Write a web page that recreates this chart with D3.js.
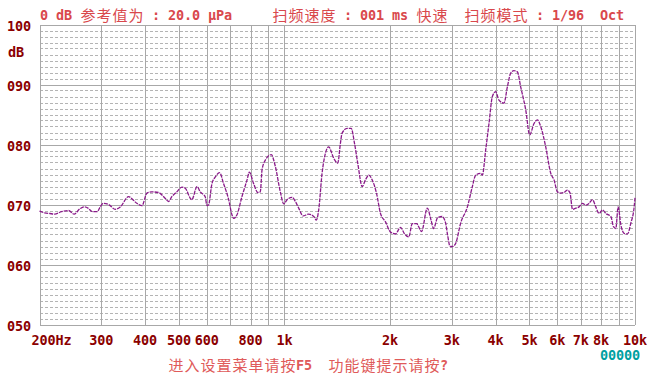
<!DOCTYPE html>
<html>
<head>
<meta charset="utf-8">
<script src="https://cdn.jsdelivr.net/npm/d3@7"></script>
<style>
  body { margin: 0; background: #fff; }
</style>
</head>
<body>
<div id="chart"></div>
<script>
// response curve, frequency (Hz) / level (dB)
const freqs = [
  200, 207, 214, 221, 231, 242, 251, 261, 268, 275, 283, 292, 298, 304, 315, 329, 340, 359, 379, 392,
  405, 418, 437, 457, 467, 477, 493, 510, 521, 544, 563, 575, 594, 601, 607, 621, 635, 653, 670, 693,
  708, 716, 732, 756, 782, 794, 816, 840, 853, 863, 882, 917, 942, 973, 995, 1017, 1051, 1074, 1098, 1130,
  1172, 1212, 1233, 1252, 1280, 1308, 1337, 1382, 1419, 1444, 1460, 1509, 1550, 1584, 1618, 1666, 1702, 1740, 1779, 1830,
  1879, 1942, 2007, 2074, 2143, 2200, 2263, 2314, 2381, 2461, 2555, 2619, 2663, 2734, 2816, 2882, 2920, 2969, 3018, 3078,
  3181, 3325, 3436, 3511, 3629, 3669, 3750, 3832, 3918, 4004, 4091, 4228, 4324, 4419, 4516, 4618, 4719, 4877, 5007, 5151,
  5267, 5383, 5563, 5749, 5875, 6008, 6140, 6275, 6417, 6527, 6631, 6777, 6926, 7082, 7238, 7397, 7564, 7730, 7900, 8078,
  8255, 8532, 8684, 8817, 8951, 9112, 9312, 9522, 9731, 9945, 10000
];
const levels = [
  68.9, 68.6, 68.5, 68.4, 68.8, 69.0, 68.4, 69.3, 69.6, 69.4, 68.8, 68.8, 69.6, 70.2, 70.0, 69.2, 69.6, 71.3, 70.2, 69.8,
  71.9, 72.1, 72.0, 71.0, 70.5, 71.3, 72.1, 72.9, 72.7, 70.8, 73.0, 72.1, 71.3, 69.8, 69.9, 73.5, 74.6, 75.3, 73.5, 70.8,
  68.3, 67.7, 68.3, 71.3, 74.1, 75.4, 73.5, 72.0, 72.1, 75.8, 77.4, 78.3, 76.3, 72.1, 70.1, 70.8, 71.2, 70.5, 69.4, 68.1,
  68.4, 68.0, 67.4, 69.1, 75.2, 78.5, 79.6, 77.7, 76.9, 80.2, 81.9, 82.7, 82.7, 80.2, 76.9, 73.0, 74.1, 74.9, 74.1, 71.9,
  68.5, 67.1, 65.4, 65.1, 66.2, 65.1, 64.6, 66.8, 66.8, 65.5, 69.4, 67.4, 66.0, 67.8, 68.0, 66.9, 64.9, 63.0, 63.0, 63.5,
  66.9, 69.6, 73.0, 74.9, 75.2, 74.9, 79.1, 83.5, 88.0, 88.8, 87.4, 86.9, 89.6, 91.9, 92.3, 92.1, 89.6, 85.8, 81.6, 83.5,
  84.1, 83.0, 79.6, 75.2, 74.1, 72.1, 71.9, 72.0, 72.4, 71.9, 69.2, 69.4, 69.6, 70.2, 69.9, 70.2, 70.8, 69.6, 68.5, 69.1,
  68.5, 68.0, 66.3, 66.0, 69.6, 66.6, 65.2, 65.1, 66.9, 69.6, 71.1
];

const yTicks = [50, 60, 70, 80, 90, 100];
const xGrid = [200, 300, 400, 500, 600, 700, 800, 900, 1000, 2000, 3000, 4000, 5000, 6000, 7000, 8000, 9000, 10000];
const xTicks = [200, 300, 400, 500, 600, 800, 1000, 2000, 3000, 4000, 5000, 6000, 7000, 8000, 10000];
const xTickLabels = ["200Hz", "300", "400", "500", "600", "800", "1k", "2k", "3k", "4k", "5k", "6k", "7k", "8k", "10k"];

const titleText = "0 dB 参考值为 : 20.0 μPa     扫频速度 : 001 ms 快速  扫频模式 : 1/96  Oct";
const footText = "进入设置菜单请按F5  功能键提示请按?";
const counterText = "00000";

const width = 664, height = 379;
const margin = { top: 24.5, right: 29, bottom: 54.5, left: 39.5 };

const svg = d3.select("#chart").append("svg")
  .attr("width", width)
  .attr("height", height)
  .style("display", "block");

svg.append("rect").attr("width", width).attr("height", height).attr("fill", "#fff");

const x = d3.scaleLog()
  .domain([200, 10000])
  .range([margin.left, width - margin.right]);

const y = d3.scaleLinear()
  .domain([50, 100])
  .range([height - margin.bottom, margin.top]);

const monoFont = "'DejaVu Sans Mono', 'Liberation Mono', monospace";
const cjkFont = "'Noto Sans CJK SC', sans-serif";

// text-mode style: 8px cells for ascii, 16px for CJK
const drawMono = (g, str, x0, yBase, color, opts = {}) => {
  let cx = x0;
  for (const ch of str) {
    const wide = ch.charCodeAt(0) > 0x2e80;
    if (ch !== " ") {
      g.append("text")
        .text(ch)
        .attr("x", wide ? cx + 8 : cx + 4)
        .attr("y", wide ? yBase + 1 : yBase)
        .attr("text-anchor", "middle")
        .style("font-family", wide ? cjkFont : monoFont)
        .style("font-size", wide ? "15px" : "13.5px")
        .style("font-weight", wide ? "normal" : (opts.bold === false ? "normal" : "bold"))
        .style("fill", color);
    }
    cx += wide ? 16 : 8;
  }
};

// minor 1 dB dashed lines
const minor = d3.range(51, 100).filter((d) => d % 10 !== 0);
svg.append("g")
  .selectAll("line")
  .data(minor)
  .join("line")
  .attr("x1", x.range()[0])
  .attr("x2", x.range()[1])
  .attr("y1", (d) => Math.round(y(d)) + 0.5)
  .attr("y2", (d) => Math.round(y(d)) + 0.5)
  .attr("stroke", "#b4b4b4")
  .attr("stroke-width", 1)
  .attr("stroke-dasharray", "3,2")
  .attr("shape-rendering", "crispEdges");

// major horizontal lines
svg.append("g")
  .selectAll("line")
  .data(yTicks)
  .join("line")
  .attr("x1", x.range()[0])
  .attr("x2", x.range()[1])
  .attr("y1", (d) => Math.round(y(d)) + 0.5)
  .attr("y2", (d) => Math.round(y(d)) + 0.5)
  .attr("stroke", "#a8a8a8")
  .attr("stroke-width", 1)
  .attr("shape-rendering", "crispEdges");

// vertical lines
svg.append("g")
  .selectAll("line")
  .data(xGrid)
  .join("line")
  .attr("x1", (d) => Math.round(x(d)) + 0.5)
  .attr("x2", (d) => Math.round(x(d)) + 0.5)
  .attr("y1", y.range()[1])
  .attr("y2", y.range()[0])
  .attr("stroke", "#a8a8a8")
  .attr("stroke-width", 1)
  .attr("shape-rendering", "crispEdges");

// curve
const line = d3.line()
  .x((d) => x(d[0]))
  .y((d) => y(d[1]))
  .curve(d3.curveMonotoneX);

svg.append("path")
  .datum(d3.zip(freqs, levels))
  .attr("d", line)
  .attr("fill", "none")
  .attr("stroke", "#8a1a8a")
  .attr("stroke-width", 1.3)
  .attr("stroke-dasharray", "4,1");

// y labels
const fmt = d3.format("03d");
const yLab = svg.append("g");
yTicks.forEach((t) => {
  drawMono(yLab, fmt(t), 7, y(t) + 6, "#8b0000");
});
drawMono(yLab, "dB", 8, 57, "#8b0000");

// x labels
const xLab = svg.append("g");
xTicks.forEach((t, i) => {
  const label = xTickLabels[i];
  const w = label.length * 8;
  const left = i === 0 ? x(t) - 8 : x(t) - w / 2;
  drawMono(xLab, label, left, 345, "#8b0000");
});

// header / footer
drawMono(svg.append("g"), titleText, 40, 20, "#d9484c");
drawMono(svg.append("g"), footText, 168, 370, "#e05a5a");
drawMono(svg.append("g"), counterText, 600, 360, "#00a0a0");
</script>
</body>
</html>
